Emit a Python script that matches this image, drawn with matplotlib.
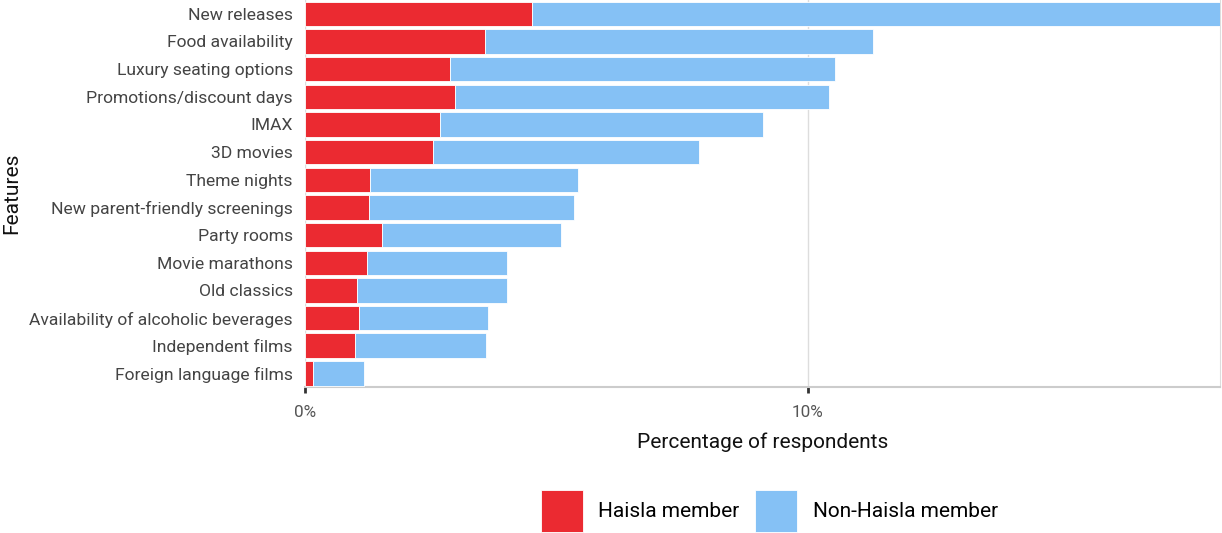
import matplotlib.pyplot as plt
from matplotlib.ticker import FuncFormatter

plt.rcParams['font.family'] = ['Roboto', 'DejaVu Sans']

features = [
    "New releases", "Food availability", "Luxury seating options",
    "Promotions/discount days", "IMAX", "3D movies", "Theme nights",
    "New parent-friendly screenings", "Party rooms", "Movie marathons",
    "Old classics", "Availability of alcoholic beverages",
    "Independent films", "Foreign language films",
]
# percent of respondents who are Haisla members, and the total per feature
haisla = [4.51, 3.58, 2.89, 2.98, 2.68, 2.55, 1.29, 1.26, 1.53, 1.22, 1.03, 1.06, 0.99, 0.16]
total = [18.21, 11.30, 10.55, 10.42, 9.11, 7.83, 5.42, 5.34, 5.10, 4.01, 4.01, 3.64, 3.60, 1.16]
non_haisla = [t - h for t, h in zip(total, haisla)]

red = "#eb2a31"
blue = "#85c1f5"

W, H = 1222, 533
x0, x1, ybot = 305.3, 1220, 387.3

fig = plt.figure(figsize=(W / 100, H / 100), dpi=100)
ax = fig.add_axes([x0 / W, 1 - ybot / H, (x1 - x0) / W, ybot / H])

y = list(range(len(features)))
ax.barh(y, haisla, height=0.89, color=red, edgecolor="white", linewidth=0.6,
        label="Haisla member", zorder=3)
ax.barh(y, non_haisla, left=haisla, height=0.89, color=blue, edgecolor="white",
        linewidth=0.6, label="Non-Haisla member", zorder=3)

ax.set_ylim(len(features) - 0.5, -0.5)
ax.set_xlim(0, max(total))
ax.set_yticks(y)
ax.set_yticklabels(features, fontsize=12.6, color="#444444")
ax.tick_params(axis="y", length=0, pad=9)

ax.set_xticks([0, 10])
ax.xaxis.set_major_formatter(FuncFormatter(lambda v, p: f"{v:.0f}%"))
ax.tick_params(axis="x", length=4, width=2, color="#333333", labelsize=12.3,
               labelcolor="#555555", pad=9)
ax.grid(axis="x", color="#dddddd", linewidth=1, zorder=0)

for side in ["top", "left"]:
    ax.spines[side].set_visible(False)
ax.spines["bottom"].set_color("#cccccc")
ax.spines["bottom"].set_linewidth(1.5)
ax.spines["right"].set_color("#dddddd")

ax.set_xlabel("Percentage of respondents", fontsize=15, color="#111111", labelpad=9)
ax.set_ylabel("Features", fontsize=15, color="#111111")
ax.yaxis.set_label_coords((21 - x0) / (x1 - x0), 0.5)

fig.legend(loc="center", bbox_to_anchor=(769.5 / W, 1 - 511 / H), ncol=2, frameon=False,
           fontsize=15, handlelength=2.0, handleheight=2.72, handletextpad=0.75,
           columnspacing=0.75, borderpad=0)

fig.savefig("out.png", dpi=100)
